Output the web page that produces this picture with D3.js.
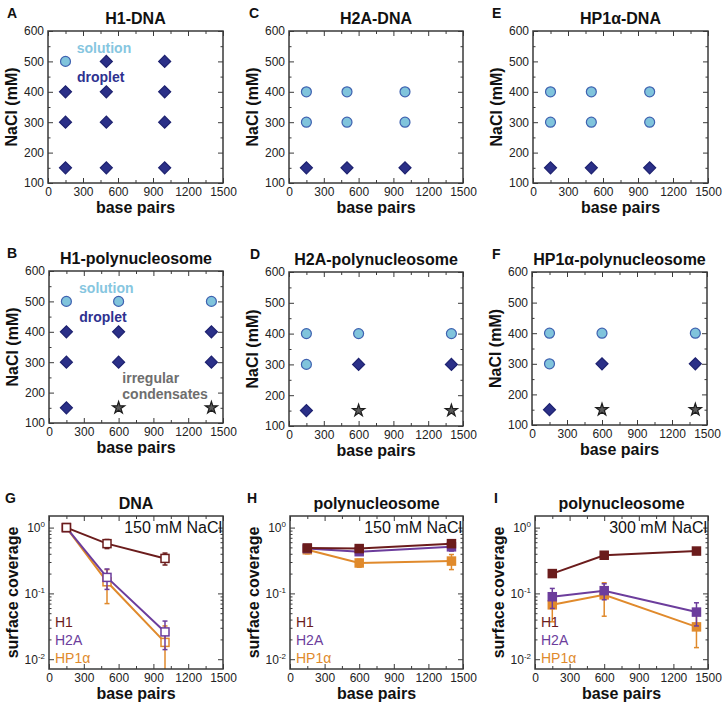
<!DOCTYPE html>
<html><head><meta charset="utf-8">
<script src="https://cdn.jsdelivr.net/npm/d3@7"></script>
<style>body{margin:0;background:#fff} svg{font-family:Arial,"Liberation Sans",Helvetica,sans-serif}</style>
</head><body><svg id="c" width="724" height="706"></svg>
<script>
// ---------------- data ----------------
const dnaBp = [150, 500, 1000];
const polyBp = [150, 600, 1400];
const saltLevels = [500, 400, 300, 150];
// phase grids: rows follow saltLevels, columns follow the bp arrays ("" = not tested)
const h1DnaPhase  = [["solution","droplet","droplet"],["droplet","droplet","droplet"],["droplet","droplet","droplet"],["droplet","droplet","droplet"]];
const h2aDnaPhase = [["","",""],["solution","solution","solution"],["solution","solution","solution"],["droplet","droplet","droplet"]];
const hp1DnaPhase = [["","",""],["solution","solution","solution"],["solution","solution","solution"],["droplet","droplet","droplet"]];
const h1PolyPhase  = [["solution","solution","solution"],["droplet","droplet","droplet"],["droplet","droplet","droplet"],["droplet","irregular","irregular"]];
const h2aPolyPhase = [["","",""],["solution","solution","solution"],["solution","droplet","droplet"],["droplet","irregular","irregular"]];
const hp1PolyPhase = [["","",""],["solution","solution","solution"],["solution","droplet","droplet"],["droplet","irregular","irregular"]];

const bpTicks = [0, 300, 600, 900, 1200, 1500];
const bpMinor = [150, 450, 750, 1050, 1350];
const saltTicks = [100, 200, 300, 400, 500, 600];
const saltMinor = [150, 250, 350, 450, 550];
const logTicks = [0.01, 0.1, 1];
const proteins = ["H1", "H2A", "HP1α"];

// surface coverage (mean, sd) ; order: H1, H2A, HP1α
const dna150Mean = [[1.0, 0.57, 0.34], [1.0, 0.175, 0.026], [1.0, 0.15, 0.018]];
const dna150Sd   = [[0.04, 0.09, 0.07], [0.04, 0.06, 0.012], [0.04, 0.08, 0.014]];
const poly150Mean = [[0.49, 0.48, 0.57], [0.48, 0.43, 0.51], [0.46, 0.29, 0.31]];
const poly150Sd   = [[0.04, 0.05, 0.06], [0.04, 0.05, 0.07], [0.06, 0.04, 0.08]];
const poly300Mean = [[0.20, 0.38, 0.44], [0.089, 0.11, 0.052], [0.067, 0.095, 0.031]];
const poly300Sd   = [[0.012, 0.02, 0.025], [0.03, 0.03, 0.02], [0.03, 0.05, 0.016]];

// ---------------- styles ----------------
const protColor = {"H1": "#6b1c1c", "H2A": "#6c3d9c", "HP1α": "#e08a2c"};
const phaseStyle = {
  solution:  {fill: "#80c4dc", stroke: "#3f62b0"},
  droplet:   {fill: "#2b3088", stroke: "#1e2270"},
  irregular: {fill: "#5a5a5a", stroke: "#1e1e1e"}
};
const frameColor = "#3a3a3a";

const svg = d3.select("#c");
let clipId = 0;

function frameAndAxes(g, x, y, box, isLog) {
  const w = box.r - box.l, h = box.b - box.t;
  const xb = d3.axisBottom(x).tickValues(bpTicks).tickSizeInner(-5).tickSizeOuter(0).tickPadding(4).tickFormat(d3.format("d"));
  const gx = g.append("g").attr("transform", `translate(0,${h})`).call(xb);
  gx.selectAll("text").attr("font-size", 12).attr("fill", "#222");
  g.append("g").attr("transform", `translate(0,${h})`).call(d3.axisBottom(x).tickValues(bpMinor).tickSizeInner(-3).tickSizeOuter(0).tickFormat(""));
  g.append("g").call(d3.axisTop(x).tickValues(bpTicks).tickSizeInner(-5).tickSizeOuter(0).tickFormat(""));
  g.append("g").call(d3.axisTop(x).tickValues(bpMinor).tickSizeInner(-3).tickSizeOuter(0).tickFormat(""));
  let major, minor;
  if (isLog) {
    major = logTicks;
    minor = [];
    logTicks.forEach(d => { for (let k = 2; k <= 9; k++) { const v = d * k; if (v > y.domain()[0] && v < y.domain()[1]) minor.push(v); } });
  } else { major = saltTicks; minor = saltMinor; }
  const yl = d3.axisLeft(y).tickValues(major).tickSizeInner(-5).tickSizeOuter(0).tickPadding(4);
  if (!isLog) yl.tickFormat(d3.format("d"));
  const gy = g.append("g").call(yl);
  gy.selectAll("text").attr("font-size", 12).attr("fill", "#222");
  if (isLog) {
    gy.selectAll("text").each(function(d) {
      const t = d3.select(this).text("");
      t.append("tspan").text("10");
      t.append("tspan").attr("font-size", 8).attr("dy", -5).text(String(Math.round(Math.log10(d))));
    });
  }
  g.append("g").call(d3.axisLeft(y).tickValues(minor).tickSizeInner(-2.5).tickSizeOuter(0).tickFormat(""));
  g.append("g").attr("transform", `translate(${w},0)`).call(d3.axisRight(y).tickValues(major).tickSizeInner(-5).tickSizeOuter(0).tickFormat(""));
  g.append("g").attr("transform", `translate(${w},0)`).call(d3.axisRight(y).tickValues(minor).tickSizeInner(-2.5).tickSizeOuter(0).tickFormat(""));
  g.selectAll(".domain").remove();
  g.selectAll(".tick line").attr("stroke", frameColor).attr("stroke-width", 1);
  g.append("rect").attr("width", w).attr("height", h).attr("fill", "none").attr("stroke", frameColor).attr("stroke-width", 1.5);
}

function titles(g, box, letter, title, ylab) {
  const w = box.r - box.l, h = box.b - box.t;
  g.append("text").attr("x", w / 2).attr("y", -7).attr("text-anchor", "middle").attr("font-weight", "bold").attr("font-size", 16).attr("fill", "#111").text(title);
  g.append("text").attr("x", box.letterX - box.l).attr("y", -13).attr("font-weight", "bold").attr("font-size", 14).attr("fill", "#111").text(letter);
  g.append("text").attr("x", w / 2).attr("y", h + 30).attr("text-anchor", "middle").attr("font-weight", "bold").attr("font-size", 16).attr("fill", "#111").text("base pairs");
  g.append("text").attr("transform", `translate(${-31},${h / 2}) rotate(-90)`).attr("text-anchor", "middle").attr("font-weight", "bold").attr("font-size", 16).attr("fill", "#111").text(ylab);
}

function phasePanel(box, letter, title, bps, grid, notes) {
  const g = svg.append("g").attr("transform", `translate(${box.l},${box.t})`);
  const x = d3.scaleLinear().domain([0, 1500]).range([0, box.r - box.l]);
  const y = d3.scaleLinear().domain([100, 600]).range([box.b - box.t, 0]);
  frameAndAxes(g, x, y, box, false);
  titles(g, box, letter, title, "NaCl (mM)");
  const pts = [];
  saltLevels.forEach((s, i) => bps.forEach((bp, j) => { if (grid[i][j]) pts.push({bp, s, p: grid[i][j]}); }));
  const sym = {
    solution: d3.symbol().type(d3.symbolCircle).size(78),
    droplet: d3.symbol().type(d3.symbolSquare).size(72),
    irregular: d3.symbol().type(d3.symbolStar).size(46)
  };
  g.selectAll("path.pt").data(pts).join("path").attr("class", "pt")
    .attr("d", d => sym[d.p]())
    .attr("transform", d => `translate(${x(d.bp)},${y(d.s)})` + (d.p === "droplet" ? " rotate(45)" : ""))
    .attr("fill", d => phaseStyle[d.p].fill).attr("stroke", d => phaseStyle[d.p].stroke).attr("stroke-width", 1.2);
  (notes || []).forEach(n => {
    g.append("text").attr("x", x(n.bp)).attr("y", y(n.s)).attr("text-anchor", n.anchor || "middle")
      .attr("font-weight", "bold").attr("font-size", 14).attr("fill", n.color).text(n.text);
  });
}

function coveragePanel(box, letter, title, bps, means, sds, salt, openMarkers) {
  const g = svg.append("g").attr("transform", `translate(${box.l},${box.t})`);
  const w = box.r - box.l, h = box.b - box.t;
  const x = d3.scaleLinear().domain([0, 1500]).range([0, w]);
  const y = d3.scaleLog().domain([0.0071, 1.5]).range([h, 0]);
  const id = "clip" + (clipId++);
  g.append("clipPath").attr("id", id).append("rect").attr("width", w).attr("height", h);
  const plot = g.append("g").attr("clip-path", `url(#${id})`);
  const order = [2, 1, 0];
  const line = d3.line().x(d => x(d.bp)).y(d => y(d.v));
  order.forEach(k => {
    const col = protColor[proteins[k]];
    const data = bps.map((bp, j) => ({bp, v: means[k][j], sd: sds[k][j]}));
    const sg = plot.append("g");
    sg.append("path").datum(data).attr("d", line).attr("fill", "none").attr("stroke", col).attr("stroke-width", 2);
    data.forEach(d => {
      const lo = Math.max(d.v - d.sd, 0.003), hi = d.v + d.sd;
      sg.append("line").attr("x1", x(d.bp)).attr("x2", x(d.bp)).attr("y1", y(lo)).attr("y2", y(hi)).attr("stroke", col).attr("stroke-width", 1.5);
      [lo, hi].forEach(e => sg.append("line").attr("x1", x(d.bp) - 2.5).attr("x2", x(d.bp) + 2.5).attr("y1", y(e)).attr("y2", y(e)).attr("stroke", col).attr("stroke-width", 1.5));
    });
    sg.selectAll("rect.m").data(data).join("rect").attr("class", "m")
      .attr("x", d => x(d.bp) - 4).attr("y", d => y(d.v) - 4).attr("width", 8).attr("height", 8)
      .attr("fill", openMarkers ? "#fff" : col).attr("stroke", col).attr("stroke-width", 1.5);
  });
  frameAndAxes(g, x, y, box, true);
  titles(g, box, letter, title, "surface coverage");
  g.append("text").attr("x", w - 1).attr("y", 17).attr("text-anchor", "end").attr("font-size", 16).attr("fill", "#111").text(salt);
  proteins.forEach((p, k) => {
    g.append("text").attr("x", 6).attr("y", h - 42 + k * 18).attr("font-size", 14).attr("fill", protColor[p]).text(p);
  });
}

// ---------------- layout ----------------
phasePanel({l: 48, r: 223, t: 31, b: 183, letterX: 7}, "A", "H1-DNA", dnaBp, h1DnaPhase, [
  {text: "solution", bp: 480, s: 528, color: "#86c6e0"},
  {text: "droplet", bp: 452, s: 433, color: "#2e3190"}]);
phasePanel({l: 289, r: 463, t: 31, b: 183, letterX: 249}, "C", "H2A-DNA", dnaBp, h2aDnaPhase);
phasePanel({l: 533, r: 708, t: 31, b: 183, letterX: 492}, "E", "HP1α-DNA", dnaBp, hp1DnaPhase);
phasePanel({l: 49, r: 223, t: 271, b: 423, letterX: 7}, "B", "H1-polynucleosome", polyBp, h1PolyPhase, [
  {text: "solution", bp: 494, s: 527, color: "#86c6e0"},
  {text: "droplet", bp: 465, s: 433, color: "#2e3190"},
  {text: "irregular", bp: 632, s: 231, color: "#6e6e6e", anchor: "start"},
  {text: "condensates", bp: 632, s: 178, color: "#6e6e6e", anchor: "start"}]);
phasePanel({l: 289, r: 463, t: 272, b: 426, letterX: 250}, "D", "H2A-polynucleosome", polyBp, h2aPolyPhase);
phasePanel({l: 532, r: 707, t: 272, b: 425, letterX: 492}, "F", "HP1α-polynucleosome", polyBp, hp1PolyPhase);
coveragePanel({l: 49, r: 223, t: 516, b: 669, letterX: 5}, "G", "DNA", dnaBp, dna150Mean, dna150Sd, "150 mM NaCl", true);
coveragePanel({l: 290, r: 463, t: 516, b: 669, letterX: 247}, "H", "polynucleosome", polyBp, poly150Mean, poly150Sd, "150 mM NaCl", false);
coveragePanel({l: 535, r: 708, t: 516, b: 669, letterX: 494}, "I", "polynucleosome", polyBp, poly300Mean, poly300Sd, "300 mM NaCl", false);
</script></body></html>
